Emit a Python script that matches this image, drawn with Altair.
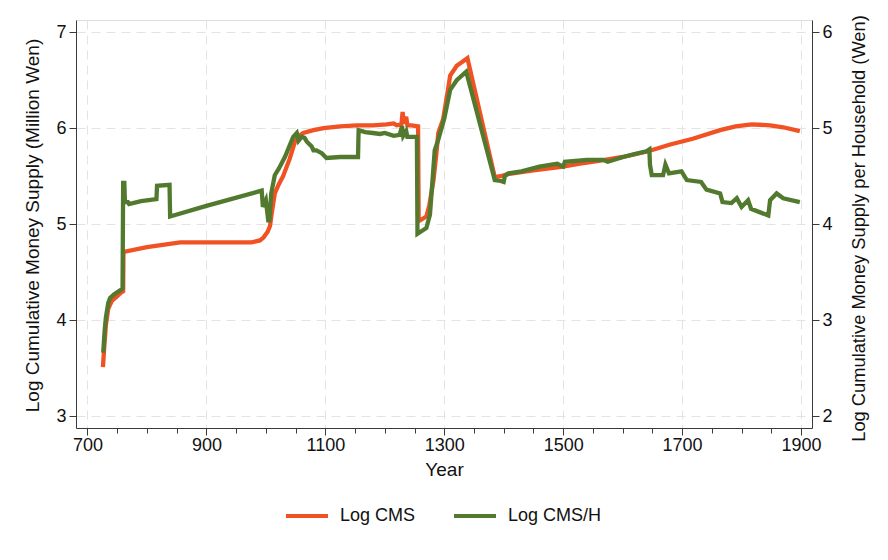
import altair as alt
import pandas as pd

# Log CMS (left axis, million wen)
cms_year = [726, 728, 731, 735, 741, 750, 757, 760, 760.5, 800, 856, 900, 976, 990, 996,
            1003, 1007, 1010, 1015, 1022, 1029, 1040, 1049, 1056, 1063, 1080, 1097, 1125,
            1153, 1180, 1203, 1215, 1220, 1228, 1230, 1232, 1236, 1238, 1245, 1256, 1257,
            1270, 1275, 1282, 1287, 1290, 1298, 1305, 1310, 1321, 1330, 1339, 1385, 1395,
            1405, 1450, 1500, 1528, 1560, 1600, 1643, 1680, 1718, 1764, 1790, 1817, 1848,
            1870, 1898]
cms_val = [3.51, 3.70, 3.95, 4.12, 4.20, 4.25, 4.29, 4.30, 4.71, 4.76, 4.81, 4.81, 4.81,
           4.83, 4.86, 4.92, 4.98, 5.12, 5.32, 5.42, 5.50, 5.68, 5.86, 5.92, 5.95, 5.98,
           6.00, 6.02, 6.03, 6.03, 6.04, 6.05, 6.03, 6.04, 6.17, 6.05, 6.12, 6.03, 6.03,
           6.02, 5.03, 5.08, 5.20, 5.46, 5.75, 5.95, 6.09, 6.35, 6.55, 6.65, 6.69, 6.73,
           5.49, 5.50, 5.52, 5.56, 5.60, 5.63, 5.66, 5.70, 5.76, 5.83, 5.89, 5.98, 6.02,
           6.04, 6.03, 6.01, 5.97]

# Log CMS/H (right axis, wen per household)
cmsh_year = [726.5, 729, 731, 735, 738, 745, 755, 759, 760, 762, 763, 768, 770, 790, 816,
             817, 838, 839, 900, 993, 995, 1000, 1004, 1006, 1009, 1015, 1022, 1032, 1046,
             1052, 1055, 1060, 1065, 1069, 1077, 1080, 1085, 1094, 1102, 1125, 1155, 1156,
             1167, 1180, 1192, 1200, 1215, 1225, 1229, 1231, 1236, 1238, 1254, 1255, 1270,
             1276, 1284, 1290, 1300, 1310, 1321, 1337, 1385, 1395, 1400, 1402, 1408, 1430,
             1460, 1490, 1500, 1503, 1540, 1567, 1575, 1601, 1620, 1640, 1645, 1646, 1649,
             1668, 1672, 1678, 1699, 1708, 1732, 1741, 1764, 1768, 1783, 1792, 1800, 1811,
             1816, 1845, 1848, 1859, 1870, 1898]
cmsh_val = [2.66, 2.90, 3.03, 3.18, 3.23, 3.27, 3.31, 3.33, 4.43, 4.43, 4.23, 4.23, 4.21,
            4.24, 4.26, 4.40, 4.41, 4.08, 4.19, 4.35, 4.18, 4.25, 4.04, 4.04, 4.32, 4.51,
            4.58, 4.70, 4.91, 4.95, 4.87, 4.91, 4.90, 4.86, 4.81, 4.77, 4.77, 4.74, 4.69,
            4.70, 4.70, 4.98, 4.96, 4.95, 4.94, 4.95, 4.92, 4.93, 5.02, 4.92, 4.97, 4.91,
            4.91, 3.90, 3.96, 4.10, 4.77, 4.88, 5.10, 5.40, 5.50, 5.59, 4.46, 4.45, 4.44,
            4.50, 4.53, 4.55, 4.60, 4.63, 4.60, 4.65, 4.67, 4.67, 4.65, 4.70, 4.73, 4.76,
            4.78, 4.62, 4.51, 4.51, 4.62, 4.53, 4.55, 4.46, 4.44, 4.36, 4.32, 4.23, 4.22,
            4.27, 4.18, 4.25, 4.16, 4.09, 4.25, 4.32, 4.27, 4.23]

series_names = ["Log CMS", "Log CMS/H"]
series_colors = ["#F05223", "#527A2E"]

df1 = pd.DataFrame({"year": cms_year, "value": cms_val, "series": series_names[0]})
df2 = pd.DataFrame({"year": cmsh_year, "value": cmsh_val, "series": series_names[1]})

FONT = "Liberation Sans"
GRID = "#E3E3E3"
AX = "#3A3A3A"

major = "datum.value % 200 == 100"
xaxis = alt.Axis(
    values=list(range(700, 1901, 50)), format="d", labelOverlap=False,
    labelExpr=f"{major} ? datum.label : ''",
    tickSize={"condition": {"test": major, "value": 7}, "value": 5},
    gridOpacity={"condition": {"test": major, "value": 1}, "value": 0},
    grid=True, gridColor=GRID, gridDash=[9, 6], gridWidth=1,
    title="Year", titleFontSize=19, titleFontWeight="normal", titlePadding=6,
    labelFontSize=18, labelPadding=1, domainColor=AX, tickColor=AX,
)

xenc = alt.X("year:Q", scale=alt.Scale(domain=[680.7, 1918.5], nice=False, zero=False), axis=xaxis)

color = alt.Color(
    "series:N",
    scale=alt.Scale(domain=series_names, range=series_colors),
    legend=alt.Legend(
        title=None, orient="none", direction="horizontal", legendX=208, legendY=473,
        symbolType="stroke", symbolSize=1764, symbolStrokeWidth=4, labelFontSize=18,
        labelOffset=10, columnPadding=30, symbolOpacity=1,
    ),
)

left = alt.Chart(df1).mark_line(strokeWidth=4.3, strokeJoin="miter").encode(
    x=xenc,
    y=alt.Y("value:Q", scale=alt.Scale(domain=[2.875, 7.128], nice=False, zero=False),
            axis=alt.Axis(values=[3, 4, 5, 6, 7], orient="left", grid=True, gridColor=GRID,
                          gridDash=[9, 6], tickSize=7, labelPadding=3, labelFontSize=18,
                          title="Log Cumulative Money Supply (Million Wen)", titleFontSize=19,
                          titleFontWeight="normal", titleX=-34, titleY=205, titleAngle=-90,
                          titleBaseline="bottom", domainColor=AX, tickColor=AX)),
    color=color,
    order=alt.Order("idx:Q"),
).transform_window(idx="row_number()")

right = alt.Chart(df2).mark_line(strokeWidth=4.3, strokeJoin="miter").encode(
    x=xenc,
    y=alt.Y("value:Q", scale=alt.Scale(domain=[1.875, 6.128], nice=False, zero=False),
            axis=alt.Axis(values=[2, 3, 4, 5, 6], orient="right", grid=False, tickSize=7,
                          labelPadding=3, labelFontSize=18,
                          title="Log Cumulative Money Supply per Household (Wen)", titleFontSize=18.3,
                          titleFontWeight="normal", titleX=38, titleY=208, titleAngle=-90,
                          titleBaseline="top", domainColor=AX, tickColor=AX)),
    color=color,
    order=alt.Order("idx:Q"),
).transform_window(idx="row_number()")

chart = alt.layer(left, right).resolve_scale(y="independent").properties(
    width=736, height=408, autosize="none",
    padding={"left": 68, "top": 12, "right": 60, "bottom": 120},
).configure_view(stroke=None).configure(font=FONT).configure_axis(
    labelColor="#111", titleColor="#111", labelFont=FONT, titleFont=FONT
).configure_legend(labelFont=FONT, labelColor="#111")

chart.save("out.html", embed_options={"renderer": "svg", "actions": False})
